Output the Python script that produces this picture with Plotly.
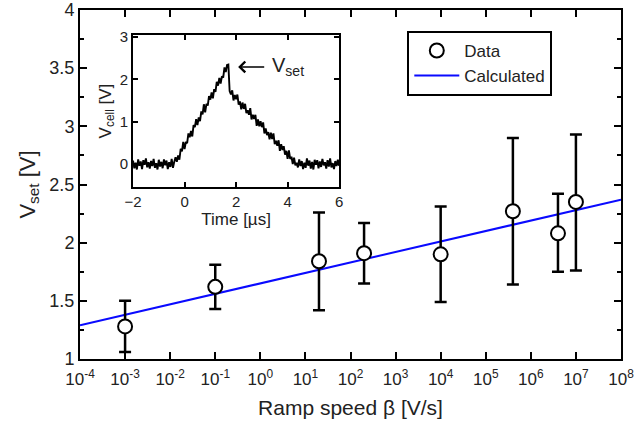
import plotly.graph_objects as go

# ---- main data ----
ramp_speed = [1e-3, 1e-1, 2e1, 2e2, 1e4, 4e5, 4e6, 1e7]
vset = [1.28, 1.62, 1.84, 1.91, 1.90, 2.27, 2.08, 2.35]
err_plus = [0.22, 0.19, 0.42, 0.26, 0.41, 0.63, 0.34, 0.58]
err_minus = [0.22, 0.19, 0.42, 0.26, 0.41, 0.63, 0.33, 0.59]

calc_x = [1e-4, 1e8]
calc_y = [1.29, 2.37]

x_tickvals = [1e-4, 1e-3, 1e-2, 1e-1, 1e0, 1e1, 1e2, 1e3, 1e4, 1e5, 1e6, 1e7, 1e8]
x_ticktext = ["10<sup>-4</sup>", "10<sup>-3</sup>", "10<sup>-2</sup>", "10<sup>-1</sup>",
              "10<sup>0</sup>", "10<sup>1</sup>", "10<sup>2</sup>", "10<sup>3</sup>",
              "10<sup>4</sup>", "10<sup>5</sup>", "10<sup>6</sup>", "10<sup>7</sup>",
              "10<sup>8</sup>"]
y_tickvals = [1, 1.5, 2, 2.5, 3, 3.5, 4]
y_ticktext = ["1", "1.5", "2", "2.5", "3", "3.5", "4"]

# ---- inset data ----
t_us = [-2.00, -1.95, -1.90, -1.85, -1.80, -1.75, -1.70, -1.65, -1.60, -1.55,
        -1.50, -1.45, -1.40, -1.35, -1.30, -1.25, -1.20, -1.15, -1.10, -1.05,
        -1.00, -0.95, -0.90, -0.85, -0.80, -0.75, -0.70, -0.65, -0.60, -0.55,
        -0.50, -0.45, -0.40, -0.35, -0.30, -0.25, -0.20, -0.15, -0.10, -0.05,
        0.00, 0.05, 0.10, 0.15, 0.20, 0.25, 0.30, 0.35, 0.40, 0.45,
        0.50, 0.55, 0.60, 0.65, 0.70, 0.75, 0.80, 0.85, 0.90, 0.95,
        1.00, 1.05, 1.10, 1.15, 1.20, 1.25, 1.30, 1.35, 1.40, 1.45,
        1.50, 1.55, 1.60, 1.65, 1.70, 1.75, 1.80, 1.85, 1.90, 1.95,
        2.00, 2.05, 2.10, 2.15, 2.20, 2.25, 2.30, 2.35, 2.40, 2.45,
        2.50, 2.55, 2.60, 2.65, 2.70, 2.75, 2.80, 2.85, 2.90, 2.95,
        3.00, 3.05, 3.10, 3.15, 3.20, 3.25, 3.30, 3.35, 3.40, 3.45,
        3.50, 3.55, 3.60, 3.65, 3.70, 3.75, 3.80, 3.85, 3.90, 3.95,
        4.00, 4.05, 4.10, 4.15, 4.20, 4.25, 4.30, 4.35, 4.40, 4.45,
        4.50, 4.55, 4.60, 4.65, 4.70, 4.75, 4.80, 4.85, 4.90, 4.95,
        5.00, 5.05, 5.10, 5.15, 5.20, 5.25, 5.30, 5.35, 5.40, 5.45,
        5.50, 5.55, 5.60, 5.65, 5.70, 5.75, 5.80, 5.85, 5.90, 5.95, 6.00]
v_cell = [0.08, -0.10, 0.03, -0.13, 0.11, -0.04, 0.06, -0.12, 0.09, -0.02,
          0.13, -0.08, 0.04, -0.11, 0.07, -0.05, 0.12, -0.09, 0.02, -0.13,
          0.10, -0.06, 0.05, -0.10, 0.11, -0.03, 0.08, -0.12, 0.04, -0.07,
          0.12, -0.09, 0.05,
          0.16, 0.05, 0.20, 0.10, 0.36, 0.30, 0.52, 0.35, 0.52, 0.49,
          0.72, 0.63, 0.78, 0.65, 0.92, 0.87, 1.06, 0.92, 1.10, 1.01,
          1.24, 1.17, 1.41, 1.22, 1.42, 1.38, 1.60, 1.52, 1.69, 1.55,
          1.77, 1.70, 1.94, 1.85, 2.03, 1.90, 2.07, 2.04, 2.28, 2.17,
          2.34, 2.35,
          1.72,
          1.64, 1.74, 1.50, 1.63, 1.53, 1.64, 1.40, 1.48, 1.29, 1.45,
          1.30, 1.42, 1.20, 1.27, 1.16, 1.32, 1.05, 1.16, 1.06, 1.16,
          0.90, 1.05, 0.89, 1.01, 0.87, 0.98, 0.72, 0.84, 0.68, 0.75,
          0.58, 0.74, 0.59, 0.72, 0.47, 0.55, 0.43, 0.56, 0.31, 0.47,
          0.33, 0.42, 0.22, 0.31, 0.12, 0.32, 0.12, 0.17, 0.00, 0.15,
          -0.03, 0.03,
          -0.08, 0.11, -0.05, 0.07, -0.12, 0.03, -0.09, 0.13, -0.04, 0.08,
          -0.11, 0.05, -0.13, 0.10, -0.02, 0.09, -0.10, 0.06, -0.07, 0.12,
          -0.03, 0.04, -0.11, 0.09, -0.06, 0.13, -0.08, 0.02, -0.12, 0.07,
          -0.05, 0.10, -0.04]

FONT = "Liberation Sans, Arial, sans-serif"
TXT = "#222222"

fig = go.Figure()

fig.add_trace(go.Scatter(
    x=calc_x, y=calc_y, mode="lines", name="Calculated",
    line=dict(color="#0a0aff", width=2), xaxis="x", yaxis="y"))

fig.add_trace(go.Scatter(
    x=ramp_speed, y=vset, mode="markers", name="Data",
    marker=dict(symbol="circle", size=14, color="white",
                line=dict(color="black", width=2)),
    error_y=dict(type="data", symmetric=False, array=err_plus, arrayminus=err_minus,
                 color="black", thickness=2.5, width=6),
    xaxis="x", yaxis="y"))

fig.add_trace(go.Scatter(
    x=t_us, y=v_cell, mode="lines", showlegend=False,
    line=dict(color="black", width=1.9), xaxis="x2", yaxis="y2"))

axis_common = dict(showline=True, linecolor="black", linewidth=2, mirror="ticks",
                   ticks="inside", tickcolor="black", showgrid=False, zeroline=False,
                   automargin=False)

fig.update_layout(
    width=636, height=432,
    margin=dict(l=80, r=15, t=10, b=73),
    paper_bgcolor="white", plot_bgcolor="white",
    font=dict(family=FONT, color=TXT, size=17),
    xaxis=dict(type="log", range=[-4, 8], tickvals=x_tickvals, ticktext=x_ticktext,
               ticklen=7, tickwidth=2, tickfont=dict(size=17), ticklabelstandoff=4,
               title=dict(text="Ramp speed β [V/s]", font=dict(size=21), standoff=12),
               **axis_common),
    yaxis=dict(range=[1, 4], tickvals=y_tickvals, ticktext=y_ticktext,
               ticklen=7, tickwidth=2, tickfont=dict(size=18),
               minor=dict(dtick=0.25, ticklen=4, tickwidth=2, tickcolor="black",
                          ticks="inside"),
               title=dict(text="V<sub>set</sub> [V]", font=dict(size=22), standoff=8),
               **axis_common),
    xaxis2=dict(domain=[0.098, 0.479], anchor="y2", range=[-2, 6],
                tickvals=[-2, 0, 2, 4, 6], ticklen=5, tickwidth=2,
                tickfont=dict(size=15),
                title=dict(text="Time [µs]", font=dict(size=17), standoff=2),
                **axis_common),
    yaxis2=dict(domain=[0.492, 0.929], anchor="x2", range=[-0.55, 3.05],
                tickvals=[0, 1, 2, 3], ticklen=5, tickwidth=2,
                tickfont=dict(size=15),
                title=dict(text="V<sub>cell</sub> [V]", font=dict(size=17), standoff=4),
                **axis_common),
    legend=dict(x=0.605, y=0.94, xanchor="left", yanchor="top",
                bordercolor="black", borderwidth=2, bgcolor="white",
                font=dict(size=17, color=TXT), traceorder="reversed",
                tracegroupgap=0, itemwidth=45),
    annotations=[
        dict(x=2.08, y=2.29, xref="x2", yref="y2", ax=3.15, ay=2.29,
             axref="x2", ayref="y2", showarrow=True, arrowhead=4, arrowsize=1.4,
             arrowwidth=1.5, arrowcolor="black", text=""),
        dict(x=3.3, y=2.29, xref="x2", yref="y2", xanchor="left", yanchor="middle",
             showarrow=False, text="V<sub>set</sub>", font=dict(size=20, color=TXT)),
    ],
)

fig.write_html("out.html")
